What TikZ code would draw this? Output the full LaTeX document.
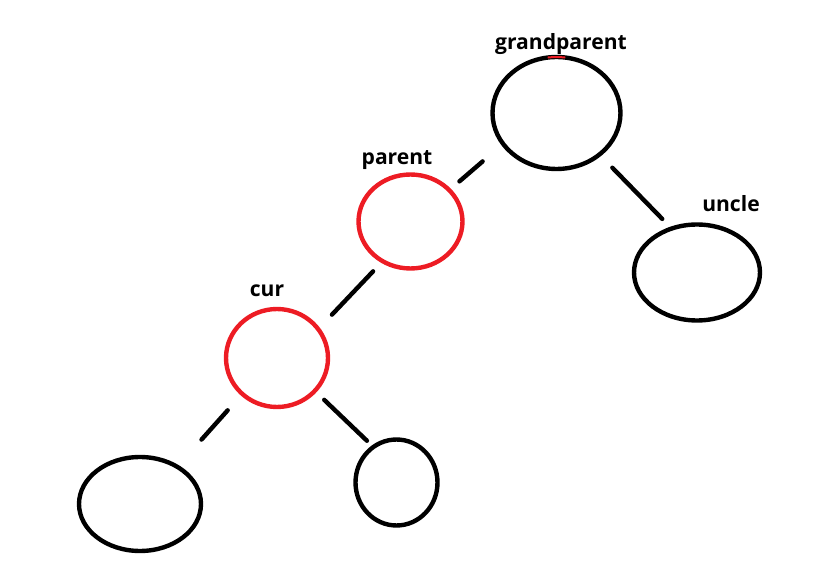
\documentclass[tikz,border=0pt]{standalone}
\usepackage{fontspec}
\setmainfont{Open Sans}
\usetikzlibrary{shapes.geometric}
\definecolor{paintred}{RGB}{237,28,36}
\begin{document}
\begin{tikzpicture}[x=0.02cm,y=-0.02cm,
  every node/.style={inner sep=0pt,outer sep=0pt},
  blob/.style={draw,ellipse,line width=0.088cm},
  redblob/.style={blob,draw=paintred},
  link/.style={line width=0.088cm,line cap=round},
  tag/.style={font=\bfseries\fontsize{12}{14}\selectfont}]
\useasboundingbox (0,0) rectangle (829,564);

\node[blob,minimum width=2.56cm,minimum height=2.24cm] (gp) at (556.5,113) {};
\node[redblob,minimum width=2.08cm,minimum height=1.88cm] (par) at (410.5,221.5) {};
\node[blob,minimum width=2.52cm,minimum height=1.92cm] (unc) at (697,272.5) {};
\node[redblob,minimum width=2.04cm,minimum height=1.96cm] (cur) at (277,358) {};
\node[blob,minimum width=2.44cm,minimum height=1.88cm] (ll) at (140,504) {};
\node[blob,minimum width=1.64cm,minimum height=1.72cm] (lr) at (396.5,482.5) {};

\draw[paintred,line width=0.04cm] (gp.99) to[bend left=6] (gp.81);

\draw[link,shorten <=0.54cm,shorten >=0.27cm] (gp.210.5) -- (par.39.9);
\draw[link,shorten <=0.37cm,shorten >=0.27cm] (gp.316.3) -- (unc.120);
\draw[link,shorten <=0.28cm,shorten >=0.40cm] (par.235.4) -- (cur.35.7);
\draw[link,shorten <=0.44cm,shorten >=0.73cm] (cur.226.1) -- (ll.45);
\draw[link,shorten <=0.26cm,shorten >=0.18cm] (cur.319.5) -- (lr.123.8);

\node[tag] (gptag) at (561,44) {grandparent};
\node[tag] (partag) at (397,160) {parent};
\node[tag] (unctag) at (731,204) {uncle};
\node[tag] (curtag) at (267,291) {cur};
\end{tikzpicture}
\end{document}
